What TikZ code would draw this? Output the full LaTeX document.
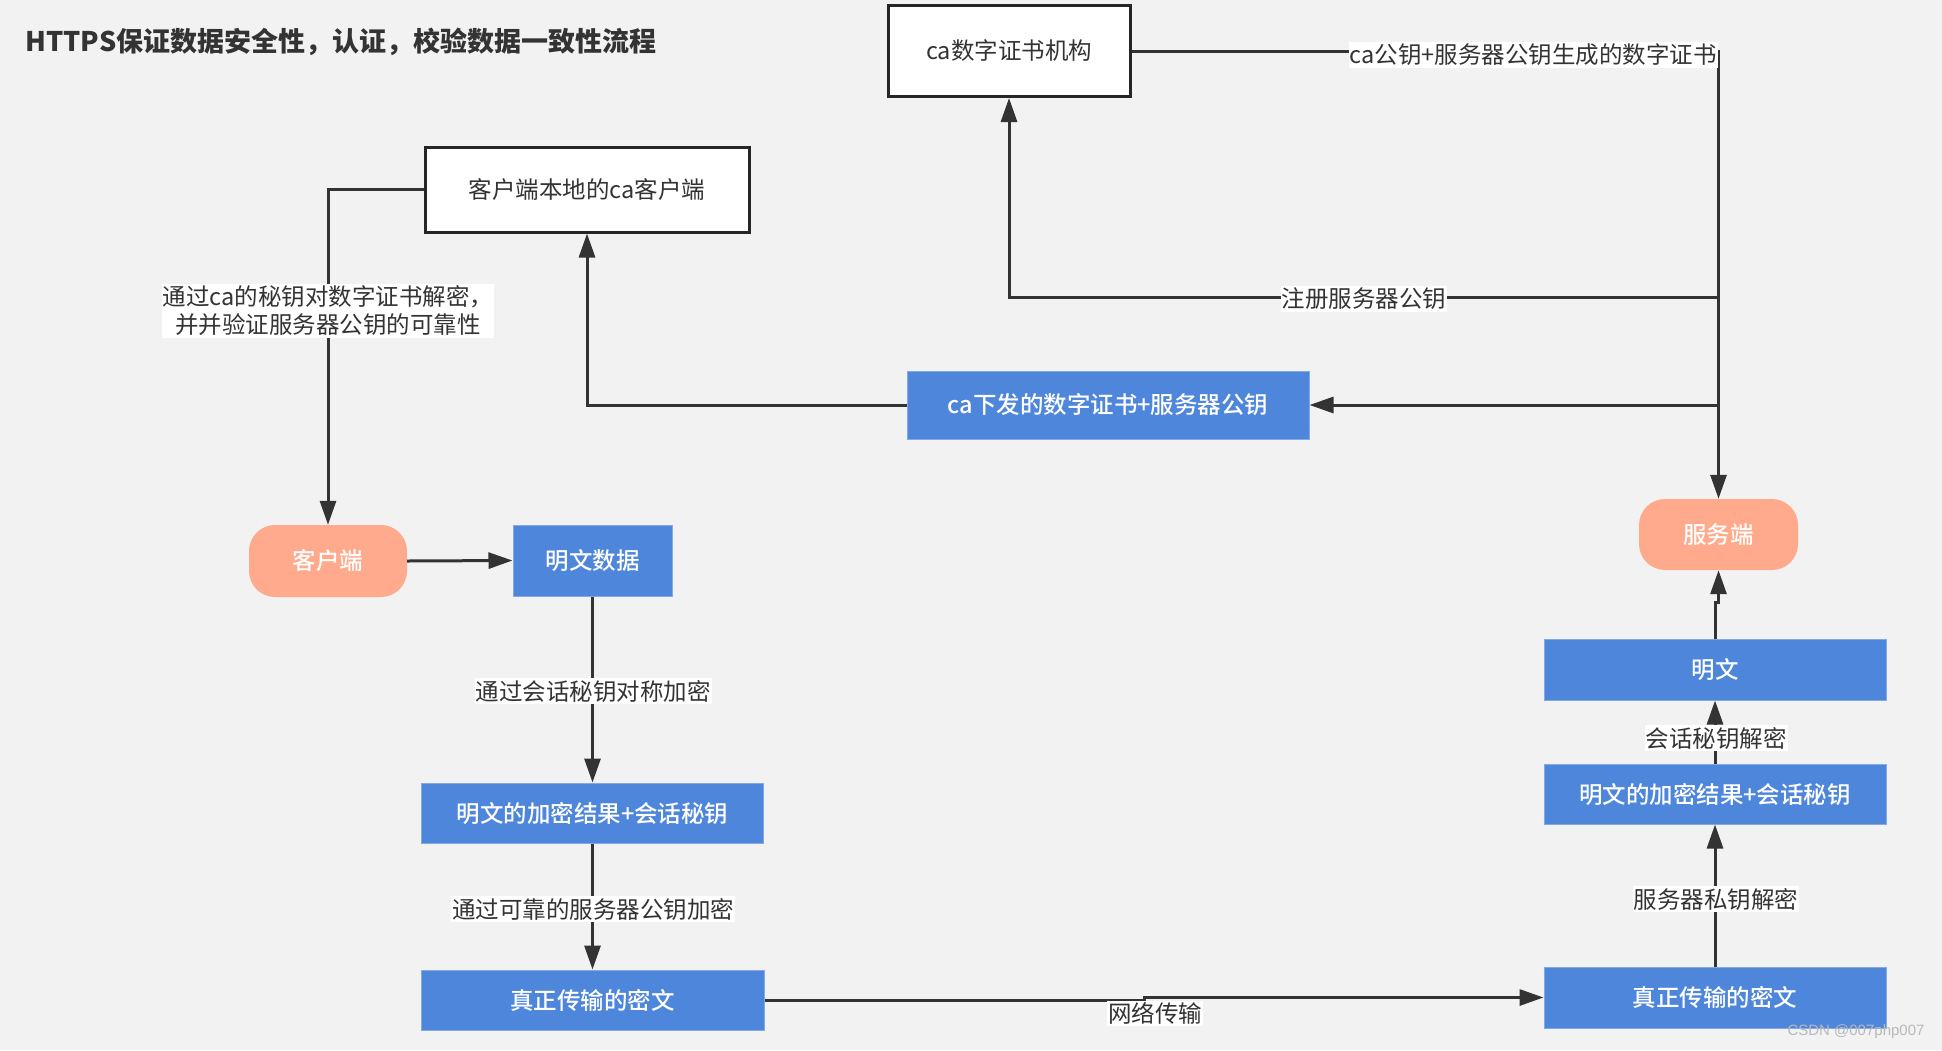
\documentclass[tikz,border=0pt]{standalone}
\usepackage{fontspec}
\setmainfont{Noto Sans CJK SC}
\newfontfamily\medfont{Noto Sans CJK SC Medium}
\newfontfamily\wmfont{Liberation Sans}
\usetikzlibrary{arrows.meta}
\definecolor{bgC}{RGB}{242,242,242}
\definecolor{myblue}{RGB}{78,134,219}
\definecolor{blueEdge}{RGB}{130,170,232}
\definecolor{salmon}{RGB}{255,170,140}
\definecolor{lineC}{RGB}{51,51,51}
\definecolor{textC}{RGB}{51,51,51}
\definecolor{wmC}{RGB}{185,185,185}
\tikzset{
  fs/.style={font=\fontsize{23.5}{28}\selectfont},
  fsm/.style={font=\medfont\fontsize{23.5}{28}\selectfont},
  whitebox/.style={fill=white, draw=black!85, line width=3pt, text=textC, fs, inner sep=0pt},
  bluebox/.style={fill=myblue, draw=blueEdge, line width=1pt, text=white, fsm, inner sep=0pt},
  pill/.style={fill=salmon, rounded corners=26pt, text=white, fsm, inner sep=0pt},
  conn/.style={draw=lineC, line width=3pt},
  arr/.style={conn, -{Triangle[length=24pt,width=16pt]}},
  lbl/.style={fill=white, text=textC, fs, inner xsep=1pt, inner ysep=2pt},
}
\begin{document}
\begin{tikzpicture}[x=1pt,y=-1pt]
\useasboundingbox (0,0) rectangle (1942,1050);
\fill[bgC] (0,0) rectangle (1942,1050);

\node[anchor=west, text=textC, font=\fontsize{27}{32}\selectfont\bfseries] (title) at (22,42) {HTTPS保证数据安全性，认证，校验数据一致性流程};

% nodes
\node[whitebox, minimum width=242pt, minimum height=91pt] (ca) at (1009,51) {ca数字证书机构};
\node[whitebox, minimum width=324pt, minimum height=85pt] (cacl) at (587,189.5) {客户端本地的ca客户端};
\node[bluebox, minimum width=402pt, minimum height=68pt] (cert) at (1108,405) {ca下发的数字证书+服务器公钥};
\node[pill, minimum width=159pt, minimum height=71pt] (server) at (1718.5,534.5) {服务端};
\node[pill, minimum width=158pt, minimum height=72pt] (client) at (328,561) {客户端};
\node[bluebox, minimum width=159pt, minimum height=71pt] (plain) at (592.5,560.5) {明文数据};
\node[bluebox, minimum width=342pt, minimum height=60pt] (encL) at (592.5,813) {明文的加密结果+会话秘钥};
\node[bluebox, minimum width=343pt, minimum height=60pt] (cipL) at (592.5,1000) {真正传输的密文};
\node[bluebox, minimum width=342pt, minimum height=61pt] (plainR) at (1715,669.5) {明文};
\node[bluebox, minimum width=342pt, minimum height=60pt] (encR) at (1715,794) {明文的加密结果+会话秘钥};
\node[bluebox, minimum width=342pt, minimum height=61pt] (cipR) at (1715,997.5) {真正传输的密文};

% connectors
\draw[arr] (ca.east) -| (server.north);
\coordinate (j1) at (1718.5,297);
\coordinate (j2) at (1718.5,405);
\draw[arr] (j1) -| (ca.south);
\draw[arr] (j2) -- (cert.east);
\draw[arr] (cert.west) -| (cacl.south);
\draw[arr] (cacl.west) -| (client.north);
\draw[arr] (client.east) -- (plain.west);
\draw[arr] (plain.south) -- (encL.north);
\draw[arr] (encL.south) -- (cipL.north);
\draw[arr] (cipL.east) -- ++(380,0) |- (cipR.west);
\draw[arr] (cipR.north) -- (encR.south);
\draw[arr] (encR.north) -- (plainR.south);
\draw[arr] (plainR.north) -- ++(0,-36) -| (server.south);

% labels
\node[lbl] (l1) at (1533,55) {ca公钥+服务器公钥生成的数字证书};
\node[lbl] (l2) at (1364,299) {注册服务器公钥};
\node[lbl, align=center, font=\fontsize{23.5}{28}\selectfont] (l3) at (328,311) {通过ca的秘钥对数字证书解密，\\并并验证服务器公钥的可靠性};
\node[lbl] (l4) at (593,691) {通过会话秘钥对称加密};
\node[lbl] (l5) at (593,909) {通过可靠的服务器公钥加密};
\node[lbl] (l6) at (1155,1013.5) {网络传输};
\node[lbl] (l7) at (1716,899) {服务器私钥解密};
\node[lbl] (l8) at (1716,738) {会话秘钥解密};

\node[anchor=east, text=wmC, font=\wmfont\fontsize{15}{18}\selectfont] (wm) at (1928,1032) {CSDN @007php007};
\end{tikzpicture}
\end{document}
